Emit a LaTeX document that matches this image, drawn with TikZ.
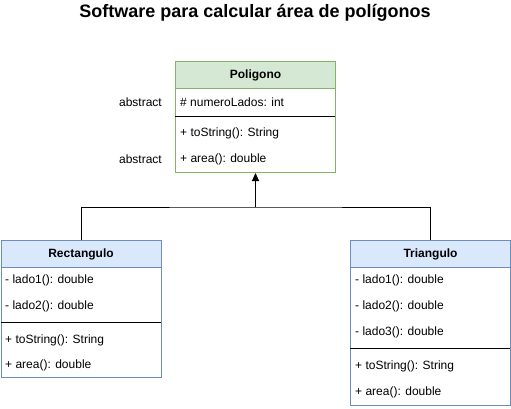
\documentclass[tikz,border=0pt]{standalone}
\usepackage{fontspec}
\setmainfont{Liberation Sans}
\usetikzlibrary{arrows.meta}
\definecolor{greenfill}{HTML}{D5E8D4}
\definecolor{greenline}{HTML}{82B366}
\definecolor{bluefill}{HTML}{DAE8FC}
\definecolor{blueline}{HTML}{6C8EBF}
\tikzset{
  classhead/.style={draw=#1, line width=1pt, anchor=north west, minimum width=160pt,
    minimum height=27pt, inner sep=0pt, font=\fontsize{12}{14}\selectfont\bfseries},
  classbody/.style={draw=#1, fill=white, line width=1pt, anchor=north west,
    minimum width=160pt, inner sep=0pt},
  member/.style={anchor=west, inner sep=0pt, font=\fontsize{12}{14}\selectfont},
  sideNote/.style={anchor=east, inner sep=0pt, font=\fontsize{12}{14}\selectfont},
  sep/.style={line width=1pt, black},
  link/.style={line width=1pt, black}
}
\begin{document}
\begin{tikzpicture}[x=1pt, y=-1pt]
  \useasboundingbox (0,0) rectangle (511,408);
  \fill[white] (0,0) rectangle (511,408);

  % title
  \node[font=\fontsize{18}{21}\selectfont\bfseries, inner sep=0pt] (title) at (255,13)
    {Software para calcular área de polígonos};

  % class Poligono
  \node[classbody=greenline, minimum height=111pt] (polBody) at (175,61) {};
  \node[classhead=greenline, fill=greenfill] (polHead) at (175,61) {Poligono};
  \draw[sep] (175,116) -- (335,116);
  \node[member] (polA) at (180,102) {\# numeroLados: int};
  \node[member] (polM1) at (180,133) {+ toString(): String};
  \node[member] (polM2) at (180,159) {+ area(): double};
  \node[sideNote] (absA) at (162,102) {abstract};
  \node[sideNote] (absB) at (162,159) {abstract};

  % class Rectangulo
  \node[classbody=blueline, minimum height=137pt] (recBody) at (0.5,240) {};
  \node[classhead=blueline, fill=bluefill] (recHead) at (0.5,240) {Rectangulo};
  \draw[sep] (0.5,322) -- (160.5,322);
  \node[member] (recA1) at (5,280) {- lado1(): double};
  \node[member] (recA2) at (5,306) {- lado2(): double};
  \node[member] (recM1) at (5,340) {+ toString(): String};
  \node[member] (recM2) at (5,365) {+ area(): double};

  % class Triangulo
  \node[classbody=blueline, minimum height=165pt] (triBody) at (350,240) {};
  \node[classhead=blueline, fill=bluefill] (triHead) at (350,240) {Triangulo};
  \draw[sep] (350,348) -- (510,348);
  \node[member] (triA1) at (355,280) {- lado1(): double};
  \node[member] (triA2) at (355,306) {- lado2(): double};
  \node[member] (triA3) at (355,332) {- lado3(): double};
  \node[member] (triM1) at (355,366) {+ toString(): String};
  \node[member] (triM2) at (355,392) {+ area(): double};

  % generalization
  \coordinate (join) at (polBody.south |- 0,207);
  \draw[link] (recHead.north) |- (join) -| (triHead.north);
  \draw[link, -{Triangle[width=7pt,length=8pt]}] (join) -- (polBody.south);
\end{tikzpicture}
\end{document}
